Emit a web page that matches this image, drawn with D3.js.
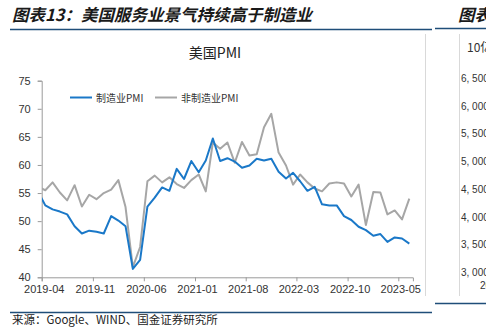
<!DOCTYPE html>
<html><head><meta charset="utf-8">
<script src="https://cdn.jsdelivr.net/npm/d3@7"></script>
<style>body{margin:0;background:#fff}svg{display:block}</style>
</head><body>
<svg id="c" width="486" height="331"></svg>
<script>
// ---- data ----
const startMonth = "2019-03";
const seriesNames = ["制造业PMI", "非制造业PMI"];
const manufacturing = [
  55.3, 52.8, 52.1, 51.7, 51.2, 49.1, 47.8, 48.3, 48.1, 47.8,
  50.9, 50.1, 49.1, 41.5, 43.1, 52.6, 54.2, 56.0, 55.4, 59.3, 57.5, 60.7,
  58.7, 60.8, 64.7, 60.7, 61.2, 60.6, 59.5, 59.9, 61.1, 60.8, 61.1, 58.8,
  57.6, 58.6, 57.1, 55.4, 56.1, 53.0, 52.8, 52.8, 50.9, 50.2, 49.0, 48.4,
  47.4, 47.7, 46.3, 47.1, 46.9, 46.0
];
const nonManufacturing = [
  56.1, 55.5, 56.9, 55.1, 53.7, 56.4, 52.6, 54.7, 53.9, 55.0,
  55.6, 57.3, 52.5, 41.8, 45.4, 57.1, 58.1, 56.9, 57.8, 56.6, 55.9, 57.3,
  58.3, 55.3, 64.0, 62.9, 64.0, 60.4, 64.1, 61.7, 61.9, 66.7, 69.1, 62.2,
  59.9, 56.5, 58.3, 56.9, 55.8, 55.3, 56.7, 56.9, 56.7, 54.4, 56.5, 49.3,
  55.2, 55.1, 51.2, 51.9, 50.3, 54.0
];
const xTickLabels = ["2019-04","2019-11","2020-06","2021-01","2021-08","2022-03","2022-10","2023-05"];
const yTicks = [40, 45, 50, 55, 60, 65, 70, 75];
const rightTickLabels = ["6, 500","6, 000","5, 500","5, 000","4, 500","4, 000","3, 500","3, 000"];
const rightTickValues = [6500, 6000, 5500, 5000, 4500, 4000, 3500, 3000];

// ---- helpers ----
const parseM = d3.utcParse("%Y-%m");
const start = parseM(startMonth);
const monthMid = i => {
  const a = d3.utcMonth.offset(start, i), b = d3.utcMonth.offset(start, i + 1);
  return new Date((+a + +b) / 2);
};
const rowsM = manufacturing.map((v, i) => ({date: monthMid(i), v}));
const rowsN = nonManufacturing.map((v, i) => ({date: monthMid(i), v}));

const svg = d3.select("#c");
const cjk = "'Noto Sans CJK SC', 'Noto Sans', sans-serif";
const lat = "'Liberation Sans', Arial, sans-serif";

// ---- frame ----
svg.append("text").attr("x", 12).attr("y", 21)
  .attr("font-family", cjk).attr("font-size", 16.5).attr("font-style", "italic").attr("font-weight", 700)
  .attr("fill", "#1a1a1a").text("图表13：美国服务业景气持续高于制造业");
svg.append("text").attr("x", 458).attr("y", 21)
  .attr("font-family", cjk).attr("font-size", 16.5).attr("font-style", "italic").attr("font-weight", 700)
  .attr("fill", "#1a1a1a").text("图表");
svg.append("line").attr("x1", 10).attr("x2", 432).attr("y1", 29.5).attr("y2", 29.5)
  .attr("stroke", "#1f4e79").attr("stroke-width", 1.5);
svg.append("line").attr("x1", 435).attr("x2", 486).attr("y1", 28.5).attr("y2", 28.5)
  .attr("stroke", "#1f4e79").attr("stroke-width", 1.5);
svg.append("line").attr("x1", 10).attr("x2", 432).attr("y1", 312.5).attr("y2", 312.5)
  .attr("stroke", "#1f4e79").attr("stroke-width", 1.5);
svg.append("line").attr("x1", 435).attr("x2", 486).attr("y1", 303.5).attr("y2", 303.5)
  .attr("stroke", "#1f4e79").attr("stroke-width", 1.5);
[425.5, 459.5].forEach(x => svg.append("line").attr("x1", x).attr("x2", x).attr("y1", 34).attr("y2", 296)
  .attr("stroke", "#d9d9d9").attr("stroke-width", 1));
svg.append("text").attr("x", 12).attr("y", 324)
  .attr("font-family", cjk).attr("font-size", 11.5).attr("fill", "#222")
  .text("来源：Google、WIND、国金证券研究所");

// right neighbour panel (clipped by the page edge, as in the reference)
const yR = d3.scaleLinear().domain([3000, 6500]).range([272, 78]);
svg.append("text").attr("x", 467).attr("y", 52).attr("font-family", cjk).attr("font-size", 12)
  .attr("fill", "#333").text("10亿");
svg.append("g").selectAll("text").data(rightTickValues).join("text")
  .attr("x", 461).attr("y", d => yR(d) + 4).attr("font-family", lat).attr("font-size", 10)
  .attr("fill", "#333").text((d, i) => rightTickLabels[i]);
svg.append("text").attr("x", 480).attr("y", 289).attr("font-family", lat).attr("font-size", 10)
  .attr("fill", "#333").text("20");

// ---- chart ----
const x = d3.scaleUtc().domain([parseM("2019-04"), parseM("2023-07")]).range([41.7, 412.9]);
const y = d3.scaleLinear().domain([40, 75]).range([277.3, 80.7]);

svg.append("text").attr("x", 215).attr("y", 58).attr("text-anchor", "middle")
  .attr("font-family", cjk).attr("font-size", 14).attr("fill", "#222").text("美国PMI");

const gy = svg.append("g").attr("transform", "translate(41.7,0)")
  .call(d3.axisLeft(y).tickValues(yTicks).tickSize(4).tickPadding(7).tickFormat(d3.format("d")));
const gx = svg.append("g").attr("transform", "translate(0,277.3)")
  .call(d3.axisBottom(x).tickValues(xTickLabels.map(parseM)).tickSize(4).tickPadding(4)
    .tickFormat(d3.utcFormat("%Y-%m")));
[gx, gy].forEach(g => {
  g.select(".domain").attr("stroke", "#9a9a9a");
  g.selectAll(".tick line").attr("stroke", "#9a9a9a");
  g.selectAll("text").attr("font-family", lat).attr("font-size", 11).attr("fill", "#333");
});
gx.selectAll(".tick text").attr("dx", 2);

svg.append("clipPath").attr("id", "pc").append("rect")
  .attr("x", 42).attr("y", 60).attr("width", 372).attr("height", 220);

const line = d3.line().x(d => x(d.date)).y(d => y(d.v));
const plot = svg.append("g").attr("clip-path", "url(#pc)");
plot.append("path").datum(rowsN).attr("d", line).attr("fill", "none")
  .attr("stroke", "#a6a6a6").attr("stroke-width", 2).attr("stroke-linejoin", "round");
plot.append("path").datum(rowsM).attr("d", line).attr("fill", "none")
  .attr("stroke", "#1a78c8").attr("stroke-width", 2).attr("stroke-linejoin", "round");

// legend
const leg = [{name: seriesNames[0], color: "#1a78c8", x: 70}, {name: seriesNames[1], color: "#a6a6a6", x: 155}];
const lg = svg.append("g").selectAll("g").data(leg).join("g").attr("transform", d => `translate(${d.x},97.5)`);
lg.append("line").attr("x1", 0).attr("x2", 22).attr("stroke", d => d.color).attr("stroke-width", 2);
lg.append("text").attr("x", 26).attr("y", 4).attr("font-family", cjk).attr("font-size", 10)
  .attr("fill", "#333").text(d => d.name);
</script>
</body></html>
